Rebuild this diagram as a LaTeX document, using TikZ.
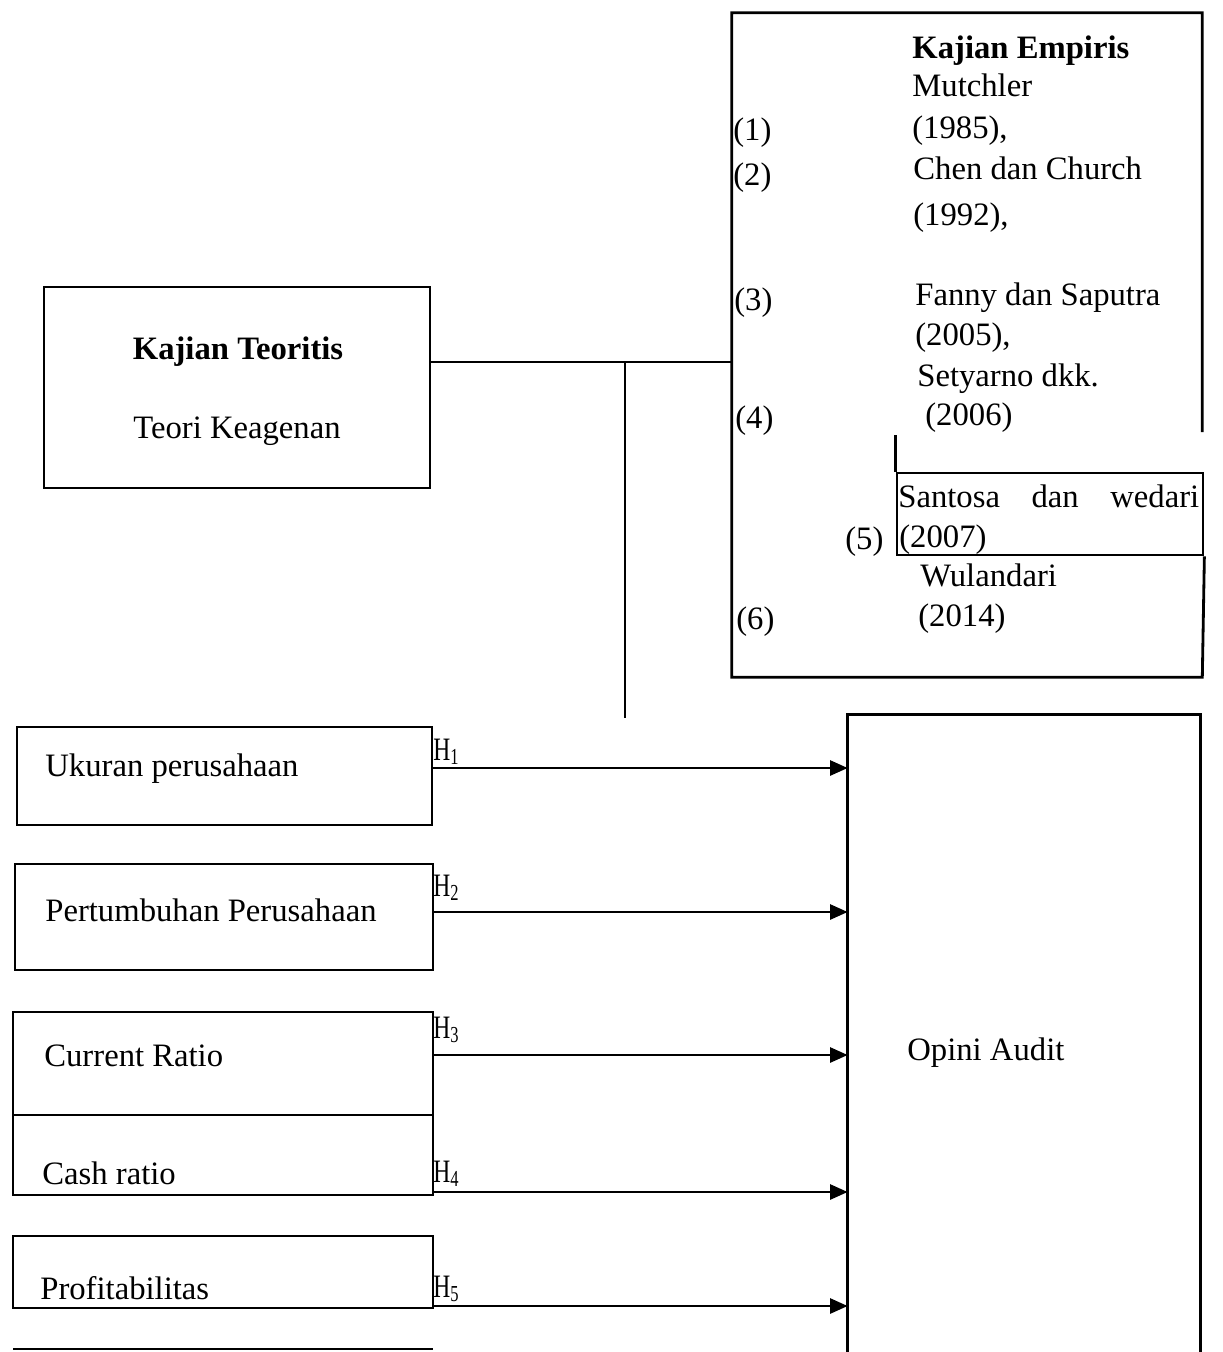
\documentclass[tikz,border=0pt]{standalone}
\usepackage{fontspec}
\setmainfont{Liberation Serif}
\usetikzlibrary{arrows.meta}
\begin{document}
\begin{tikzpicture}[x=0.02cm,y=-0.02cm,
  ln/.style={line width=1.6pt},
  box/.style={draw,line width=1.6pt,inner sep=0,rectangle},
  ghost/.style={draw=none,inner sep=0,rectangle},
  txt/.style={anchor=base west,inner sep=0,font=\fontsize{18.6}{22}\selectfont},
  ctxt/.style={anchor=base,inner sep=0,font=\fontsize{18.6}{22}\selectfont},
  arr/.style={line width=1.6pt,-{Triangle[length=10pt,width=8.5pt]}}]
\useasboundingbox (0,0) rectangle (1223,1352);

% ---- boxes ----
\node[box,minimum width=7.72cm,minimum height=4.02cm] (kt) at (237,387.5) {};
\node[ghost,minimum width=9.4cm,minimum height=13.28cm] (emp) at (967,345) {};
\node[box,minimum width=6.12cm,minimum height=1.64cm] (sb) at (1050,514) {};
\node[ghost,minimum width=7.04cm,minimum height=12.74cm] (oa) at (1024,1033.5) {};

\node[box,minimum width=8.3cm,minimum height=1.96cm] (uk) at (224.5,776) {};
\node[box,minimum width=8.36cm,minimum height=2.12cm] (pp) at (224,917) {};
\node[box,minimum width=8.4cm,minimum height=2.06cm] (cr) at (223,1063.5) {};
\node[box,minimum width=8.4cm,minimum height=1.6cm] (cash) at (223,1155) {};
\node[box,minimum width=8.4cm,minimum height=1.44cm] (prof) at (223,1272) {};

% ---- outlines of open boxes ----
\draw[ln] (emp.north east |- 0,432) -- (emp.north east) -- (emp.north west)
  -- (emp.south west) -- (emp.south east) -- (sb.south east);
\draw[ln] (sb.north west |- 0,435) -- (sb.north west);
\draw[ln] (oa.south west) -- (oa.north west) -- (oa.north east) -- (oa.south east);
\draw[ln] (13,1349) -- (433,1349);

% ---- connectors ----
\coordinate (j) at (625,362);
\coordinate (jend) at (625,718);
\draw[ln] (kt.east |- j) -- (emp.west |- j);
\draw[ln] (j) -- (jend);

\draw[arr] (uk.east |- 0,768) -- (oa.west |- 0,768);
\draw[arr] (pp.east |- 0,912) -- (oa.west |- 0,912);
\draw[arr] (cr.east |- 0,1055) -- (oa.west |- 0,1055);
\draw[arr] (cash.east |- 0,1192) -- (oa.west |- 0,1192);
\draw[arr] (prof.east |- 0,1306) -- (oa.west |- 0,1306);

% ---- H labels ----
\node[txt] (h1) at (433,760) {\scalebox{0.72}[1]{H\textsubscript{1}}};
\node[txt] (h2) at (433,896) {\scalebox{0.72}[1]{H\textsubscript{2}}};
\node[txt] (h3) at (433,1038) {\scalebox{0.72}[1]{H\textsubscript{3}}};
\node[txt] (h4) at (433,1182) {\scalebox{0.72}[1]{H\textsubscript{4}}};
\node[txt] (h5) at (433,1297) {\scalebox{0.72}[1]{H\textsubscript{5}}};

% ---- texts ----
\node[ctxt] (t1) at (238,359) {\bfseries Kajian Teoritis};
\node[ctxt] (t2) at (237,438) {Teori Keagenan};

\node[txt] (e0) at (912,58) {\bfseries Kajian Empiris};
\node[txt] (e1) at (912,96) {Mutchler};
\node[txt] (e2) at (912,138) {(1985),};
\node[txt] (e3) at (913,179) {Chen dan Church};
\node[txt] (e4) at (913,225) {(1992),};
\node[txt] (e5) at (915,305) {Fanny dan Saputra};
\node[txt] (e6) at (915,345) {(2005),};
\node[txt] (e7) at (917,386) {Setyarno dkk.};
\node[txt] (e8) at (925,425) {(2006)};
\node[txt] (e9) at (898,507) {\makebox[6.02cm][s]{Santosa dan wedari}};
\node[txt] (e10) at (899,547) {(2007)};
\node[txt] (e11) at (920,586) {Wulandari};
\node[txt] (e12) at (918,626) {(2014)};

\node[txt] (n1) at (733,140) {(1)};
\node[txt] (n2) at (733,185) {(2)};
\node[txt] (n3) at (734,310) {(3)};
\node[txt] (n4) at (735,428) {(4)};
\node[txt] (n5) at (845,549) {(5)};
\node[txt] (n6) at (736,629) {(6)};

\node[txt] (l1) at (45,776) {Ukuran perusahaan};
\node[txt] (l2) at (45,921) {Pertumbuhan Perusahaan};
\node[txt] (l3) at (44,1066) {Current Ratio};
\node[txt] (l4) at (42,1184) {Cash ratio};
\node[txt] (l5) at (40,1299) {Profitabilitas};
\node[txt] (oat) at (907,1060) {Opini Audit};
\end{tikzpicture}
\end{document}
